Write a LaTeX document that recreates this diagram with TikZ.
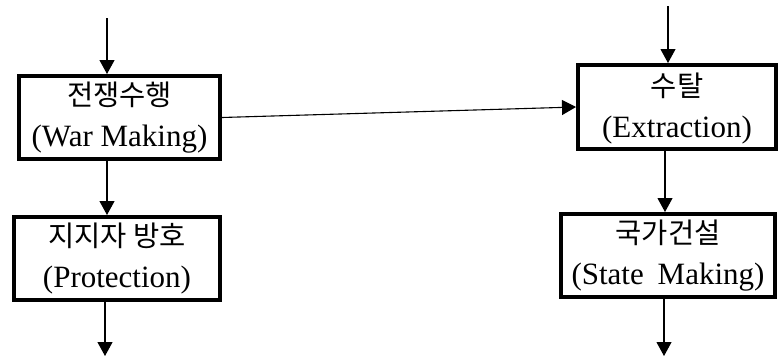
\documentclass[tikz,border=0pt]{standalone}
\usepackage{fontspec}
\setmainfont{Liberation Serif}
\newfontfamily\korfont{Noto Sans CJK KR}
\usetikzlibrary{arrows.meta}
\begin{document}
\begin{tikzpicture}[x=1pt,y=-1pt,
  box/.style={draw=black, line width=4pt, fill=white, inner sep=0pt, outer sep=2pt},
  kor/.style={font=\korfont\fontsize{28.5}{32}\selectfont, inner sep=0pt},
  eng/.style={font=\fontsize{31}{36}\selectfont, inner sep=0pt, anchor=base},
  conn/.style={draw=black, line width=1.1pt, -{Triangle[length=14pt,width=15pt]}},
  plain/.style={draw=black, line width=1.1pt}]
\useasboundingbox (0,0) rectangle (778,356);
% boxes (centre line coordinates)
\node[box, minimum width=201pt, minimum height=83pt] (war) at (119.5,117.5) {};
\node[box, minimum width=206pt, minimum height=83pt] (prot) at (117,258.5) {};
\node[box, minimum width=198pt, minimum height=84pt] (extr) at (677,107) {};
\node[box, minimum width=214pt, minimum height=83pt] (state) at (668,255.5) {};
% texts
\node[kor] (warK) at ([yshift=-21pt]war.north) {전쟁수행};
\node[eng] (warE) at ([yshift=-72pt]war.north) {(War Making)};
\node[kor] (protK) at ([yshift=-21pt]prot.north) {지지자 방호};
\node[eng] (protE) at ([yshift=-72pt]prot.north) {(Protection)};
\node[kor] (extrK) at ([yshift=-23pt]extr.north) {수탈};
\node[eng] (extrE) at ([yshift=-74pt]extr.north) {(Extraction)};
\node[kor] (stateK) at ([yshift=-21pt]state.north) {국가건설};
\node[eng] (stateE) at ([yshift=-72pt]state.north) {(State\hspace{0.45em}Making)};
% free ends
\coordinate (inW) at (107,18);
\coordinate (inE) at (668,6);
\coordinate (outP) at (105,356);
\coordinate (outS) at (664,356);
% connectors
\draw[conn] (inW) -- (inW |- war.north);
\draw[conn] (inE) -- (inE |- extr.north);
\draw[conn] (war.east) -- (extr.west);
\draw[conn] (107,0 |- war.south) -- (107,0 |- prot.north);
\draw[conn] (105,0 |- prot.south) -- (outP);
\draw[conn] (665,0 |- extr.south) -- (665,0 |- state.north);
\draw[conn] (664,0 |- state.south) -- (outS);
\end{tikzpicture}
\end{document}
